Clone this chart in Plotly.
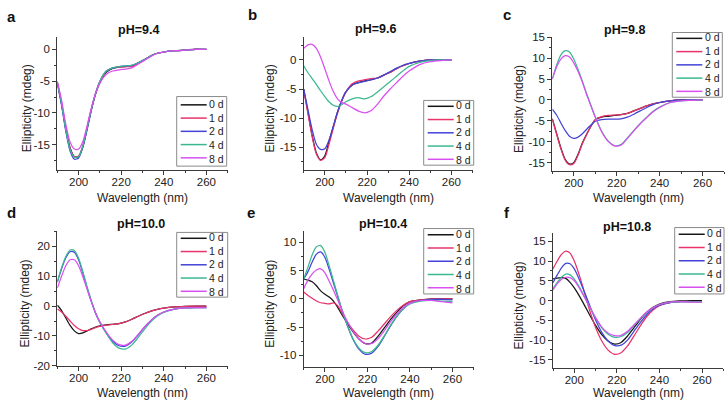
import plotly.graph_objects as go

# ---------------- data ----------------
wavelength = [190, 192, 194, 196, 198, 200, 202, 204, 206, 208, 210, 213, 216, 219,
              222, 225, 228, 231, 234, 237, 240, 245, 250, 255, 260]
days = ["0 d", "1 d", "2 d", "4 d", "8 d"]
ph_titles = ["pH=9.4", "pH=9.6", "pH=9.8", "pH=10.0", "pH=10.4", "pH=10.8"]
panel_letters = ["a", "b", "c", "d", "e", "f"]
x_tick_values = [200, 220, 240, 260]

ph94_0d = [-5.2, -8.5, -12.5, -15.5, -16.9, -16.9, -15.3, -12.5, -9.5, -7.0, -5.2, -3.6, -3.0, -2.8, -2.7, -2.6, -2.1, -1.6, -1.0, -0.6, -0.4, -0.2, -0.1, 0.05, 0.0]
ph94_1d = [-5.3, -8.6, -12.6, -15.6, -16.9, -16.8, -15.2, -12.4, -9.4, -6.9, -5.1, -3.5, -2.9, -2.8, -2.7, -2.7, -2.2, -1.6, -1.0, -0.6, -0.4, -0.2, -0.1, 0.0, 0.0]
ph94_2d = [-5.3, -8.8, -12.9, -16.0, -17.3, -17.1, -15.4, -12.6, -9.5, -6.9, -5.0, -3.4, -2.9, -2.7, -2.6, -2.5, -2.1, -1.6, -1.0, -0.6, -0.4, -0.2, -0.1, 0.0, 0.0]
ph94_4d = [-5.2, -8.6, -12.7, -15.8, -17.0, -16.9, -15.2, -12.4, -9.4, -6.9, -5.0, -3.4, -2.9, -2.7, -2.6, -2.5, -2.1, -1.6, -1.0, -0.6, -0.4, -0.2, -0.1, 0.0, 0.0]
ph94_8d = [-5.0, -8.0, -11.8, -14.6, -15.7, -15.7, -14.5, -12.0, -9.2, -6.9, -5.3, -3.9, -3.4, -3.2, -3.1, -2.9, -2.3, -1.7, -1.1, -0.6, -0.4, -0.2, -0.1, 0.0, 0.0]

ph96_0d = [-5.0, -9.0, -13.0, -16.0, -17.2, -16.5, -14.0, -11.5, -9.0, -7.0, -5.5, -4.3, -3.9, -3.6, -3.4, -3.1, -2.6, -2.1, -1.5, -1.0, -0.6, -0.2, 0.0, 0.0, 0.0]
ph96_1d = [-5.2, -9.2, -13.2, -16.2, -17.3, -16.8, -14.5, -11.8, -9.2, -7.1, -5.5, -4.1, -3.6, -3.4, -3.2, -3.1, -2.6, -2.1, -1.5, -1.0, -0.6, -0.2, 0.0, 0.0, 0.0]
ph96_2d = [-5.0, -8.5, -12.0, -14.5, -15.4, -15.3, -13.8, -11.5, -9.0, -7.0, -5.5, -4.3, -3.9, -3.7, -3.4, -3.1, -2.6, -2.0, -1.4, -0.9, -0.6, -0.2, 0.0, 0.0, 0.0]
ph96_4d = [-1.0, -2.2, -3.2, -4.2, -5.3, -6.3, -7.2, -7.8, -8.0, -7.7, -7.2, -6.7, -6.5, -6.7, -6.3, -5.5, -4.6, -3.7, -2.8, -1.9, -1.1, -0.4, -0.1, 0.0, 0.0]
ph96_8d = [2.0, 2.6, 2.7, 2.0, 0.5, -1.5, -3.6, -5.4, -6.7, -7.3, -7.6, -8.2, -8.8, -9.1, -8.7, -7.6, -6.2, -5.0, -3.9, -2.8, -1.9, -0.8, -0.3, -0.1, 0.0]

ph98_0d = [-4.5, -8.0, -11.5, -14.2, -15.3, -15.0, -13.0, -10.3, -8.2, -6.3, -4.7, -4.1, -3.9, -3.7, -3.5, -3.2, -2.6, -2.0, -1.4, -0.9, -0.6, -0.2, 0.0, 0.0, 0.0]
ph98_1d = [-4.6, -8.2, -11.7, -14.4, -15.5, -15.2, -13.2, -10.5, -8.3, -6.3, -4.7, -4.0, -3.7, -3.6, -3.5, -3.2, -2.6, -2.0, -1.4, -0.9, -0.6, -0.2, 0.0, 0.0, 0.0]
ph98_2d = [-2.2, -3.6, -5.5, -7.3, -8.7, -9.2, -8.9, -8.1, -7.0, -6.0, -5.1, -4.7, -4.6, -4.6, -4.5, -4.1, -3.4, -2.6, -1.8, -1.1, -0.6, -0.2, 0.0, 0.0, 0.0]
ph98_4d = [5.0, 8.3, 10.8, 11.8, 11.5, 9.8, 7.3, 4.5, 1.5, -1.3, -4.0, -7.5, -9.8, -10.9, -10.7, -9.1, -7.3, -5.6, -4.1, -2.7, -1.7, -0.6, -0.2, -0.1, 0.0]
ph98_8d = [5.0, 7.9, 9.8, 10.6, 10.3, 8.9, 6.8, 4.3, 1.3, -1.4, -4.1, -7.6, -9.9, -11.0, -10.8, -9.2, -7.4, -5.7, -4.2, -2.8, -1.8, -0.6, -0.2, -0.1, 0.0]

ph100_0d = [0.3, -1.5, -4.0, -6.5, -8.3, -9.2, -9.0, -8.3, -7.6, -7.0, -6.6, -6.3, -6.1, -5.9, -5.3, -4.4, -3.4, -2.5, -1.7, -1.1, -0.7, -0.3, -0.1, 0.0, 0.0]
ph100_1d = [-1.0, -2.0, -3.4, -5.0, -6.5, -7.6, -8.2, -8.2, -7.8, -7.2, -6.8, -6.4, -6.1, -5.9, -5.3, -4.4, -3.4, -2.5, -1.7, -1.1, -0.7, -0.3, -0.1, 0.0, 0.0]
ph100_2d = [8.0, 12.5, 16.2, 18.2, 18.0, 15.5, 11.0, 6.0, 1.5, -2.5, -5.5, -9.0, -11.8, -13.3, -13.4, -12.0, -9.6, -7.0, -4.8, -3.1, -2.0, -1.0, -0.6, -0.5, -0.5]
ph100_4d = [8.0, 12.8, 16.6, 18.8, 18.6, 16.0, 11.5, 6.4, 1.8, -2.3, -5.5, -9.2, -12.3, -14.1, -14.4, -13.0, -10.5, -7.7, -5.2, -3.3, -2.1, -1.0, -0.6, -0.5, -0.5]
ph100_8d = [6.0, 10.0, 13.5, 15.5, 15.5, 13.5, 9.8, 5.6, 1.4, -2.3, -5.3, -8.7, -11.4, -12.9, -13.1, -11.8, -9.5, -7.0, -4.8, -3.1, -2.0, -1.0, -0.6, -0.5, -0.5]

ph104_0d = [3.5, 3.3, 3.0, 2.3, 1.4, 0.8, 0.3, -0.4, -1.5, -2.8, -4.0, -5.7, -7.1, -7.9, -7.8, -6.6, -5.1, -3.6, -2.3, -1.2, -0.5, -0.2, 0.0, 0.0, 0.0]
ph104_1d = [1.2, 0.6, 0.1, -0.4, -0.7, -0.8, -0.9, -0.7, -1.2, -2.5, -3.8, -5.4, -6.6, -7.1, -6.8, -5.7, -4.4, -3.1, -2.0, -1.1, -0.5, -0.2, 0.0, 0.0, 0.0]
ph104_2d = [3.5, 4.8, 6.5, 7.9, 8.3, 7.3, 5.2, 2.8, 0.4, -2.0, -4.2, -7.0, -8.9, -9.8, -9.6, -8.4, -6.6, -4.7, -3.0, -1.7, -0.8, -0.3, -0.1, -0.1, -0.2]
ph104_4d = [3.5, 5.6, 7.8, 9.2, 9.4, 8.2, 5.8, 3.2, 0.6, -1.9, -4.1, -6.9, -8.7, -9.5, -9.3, -8.2, -6.5, -4.6, -3.0, -1.7, -0.9, -0.4, -0.3, -0.4, -0.5]
ph104_8d = [1.8, 3.3, 4.4, 5.1, 5.3, 4.6, 3.1, 1.5, -0.2, -2.0, -3.6, -5.6, -7.1, -7.9, -7.9, -7.0, -5.6, -4.0, -2.6, -1.5, -0.8, -0.3, -0.3, -0.5, -0.7]

ph108_0d = [5.5, 5.7, 5.8, 5.6, 4.6, 3.2, 1.5, -0.4, -2.4, -4.4, -6.3, -8.7, -10.3, -11.0, -10.6, -9.0, -6.9, -4.8, -3.0, -1.7, -0.9, -0.3, -0.1, 0.0, 0.0]
ph108_1d = [8.0, 10.0, 11.7, 12.5, 12.0, 10.0, 7.0, 3.5, -0.3, -3.8, -6.8, -10.3, -12.6, -13.6, -13.2, -11.5, -9.0, -6.4, -4.1, -2.4, -1.3, -0.5, -0.3, -0.3, -0.3]
ph108_2d = [4.5, 6.5, 8.3, 9.4, 9.3, 8.0, 5.8, 3.2, 0.5, -2.3, -4.9, -8.1, -10.3, -11.4, -11.3, -10.0, -7.8, -5.6, -3.6, -2.1, -1.2, -0.5, -0.3, -0.3, -0.3]
ph108_4d = [3.0, 4.6, 5.9, 6.7, 6.5, 5.4, 3.8, 1.8, -0.3, -2.4, -4.4, -7.0, -8.6, -9.3, -9.1, -8.1, -6.4, -4.6, -3.0, -1.8, -1.0, -0.4, -0.3, -0.3, -0.3]
ph108_8d = [2.7, 4.3, 5.4, 5.9, 5.8, 5.0, 3.5, 1.6, -0.4, -2.4, -4.3, -6.8, -8.3, -8.9, -8.8, -7.8, -6.2, -4.5, -2.9, -1.8, -1.0, -0.4, -0.3, -0.4, -0.4]

panels_data = [
    [ph94_0d, ph94_1d, ph94_2d, ph94_4d, ph94_8d],
    [ph96_0d, ph96_1d, ph96_2d, ph96_4d, ph96_8d],
    [ph98_0d, ph98_1d, ph98_2d, ph98_4d, ph98_8d],
    [ph100_0d, ph100_1d, ph100_2d, ph100_4d, ph100_8d],
    [ph104_0d, ph104_1d, ph104_2d, ph104_4d, ph104_8d],
    [ph108_0d, ph108_1d, ph108_2d, ph108_4d, ph108_8d],
]
y_tick_values = [
    [-15, -10, -5, 0],
    [-15, -10, -5, 0],
    [-15, -10, -5, 0, 5, 10, 15],
    [-20, -10, 0, 10, 20],
    [-10, -5, 0, 5, 10],
    [-15, -10, -5, 0, 5, 10, 15],
]
y_ranges = [(-19, 2), (-19, 4), (-17, 15), (-20, 25), (-12, 12), (-17, 17)]

# ---------------- style ----------------
W, H = 727, 407
colors = ["#151515", "#e8336b", "#4343d8", "#3bb892", "#d850ef"]
FONT = "Arial, Liberation Sans, sans-serif"
AXC = "#3a3a3a"
TXT = "#222"

# plot areas in pixels: left, right, top, bottom
areas = [
    (57.3, 227.7, 31.7, 169.0),
    (303.7, 472.5, 31.7, 169.3),
    (552.3, 724.0, 32.3, 170.0),
    (57.3, 227.7, 232.3, 370.7),
    (303.7, 473.7, 231.7, 371.7),
    (553.0, 723.3, 234.3, 372.7),
]
minor_steps = [2.5, 2.5, 2.5, 5, 2.5, 2.5]
legend_boxes = [
    (176.7, 93.3, 50, 71.7),
    (423.7, 97.3, 50, 66.7),
    (672.3, 27.3, 50, 66.7),
    (176.7, 233.3, 51, 66.7),
    (423.7, 229.3, 50, 67.4),
    (674.7, 228.3, 49.3, 68.4),
]
title_pos = [(138.5, 25), (375, 23.5), (624.8, 25), (141, 225), (382.7, 225), (626.5, 228)]
letter_pos = [(12, 11), (252, 9), (507, 9), (11, 213), (251, 213), (507, 213)]
ytitle_x = [27, 270, 519, 25, 270, 519]
xtitle_y = [197.5, 197.5, 197.5, 399, 399, 399]
LEG_FS = 10.5
LEG_LH = LEG_FS * 1.3


def px(x):
    return x / W


def py(y):
    return 1 - y / H


fig = go.Figure()
shapes = []
annotations = []

for i in range(6):
    n = "" if i == 0 else str(i + 1)
    xa, ya = "x" + n, "y" + n
    l, r, t, b = areas[i]
    for j in range(5):
        fig.add_trace(go.Scatter(
            x=wavelength, y=panels_data[i][j], mode="lines", name=days[j],
            line=dict(color=colors[j], width=1.25, shape="spline", smoothing=0.7),
            xaxis=xa, yaxis=ya, showlegend=False,
        ))
    common = dict(showline=True, linecolor=AXC, linewidth=1, ticks="outside",
                  ticklen=4, tickcolor=AXC, tickwidth=1, showgrid=False, zeroline=False,
                  tickfont=dict(family=FONT, size=11.5, color=TXT))
    fig.layout["xaxis" + n] = dict(
        domain=[px(l), px(r)], anchor=ya, range=[190, 270],
        tickvals=x_tick_values, ticktext=[str(v) for v in x_tick_values],
        ticklabelstandoff=-3,
        minor=dict(dtick=10, tick0=0, ticks="outside", ticklen=2, tickcolor=AXC),
        **common)
    fig.layout["yaxis" + n] = dict(
        domain=[py(b), py(t)], anchor=xa, range=list(y_ranges[i]),
        tickvals=y_tick_values[i], ticktext=[str(v) for v in y_tick_values[i]],
        minor=dict(dtick=minor_steps[i], tick0=0, ticks="outside", ticklen=2, tickcolor=AXC),
        **common)

    # axis titles
    annotations.append(dict(text="Wavelength (nm)", x=px((l + r) / 2), y=py(xtitle_y[i]),
                            xref="paper", yref="paper", showarrow=False,
                            xanchor="center", yanchor="middle", borderpad=0,
                            font=dict(family=FONT, size=12, color=TXT)))
    annotations.append(dict(text="Ellipticity (mdeg)", x=px(ytitle_x[i]), y=py((t + b) / 2 + 5),
                            xref="paper", yref="paper", showarrow=False, textangle=-90,
                            xanchor="center", yanchor="middle", borderpad=0,
                            font=dict(family=FONT, size=12, color=TXT)))

    # title & panel letter
    tx, ty = title_pos[i]
    annotations.append(dict(text="<b>" + ph_titles[i] + "</b>", x=px(tx), y=py(ty), xref="paper", yref="paper",
                            showarrow=False, font=dict(family=FONT, size=12.5, color="#111"),
                            xanchor="center", yanchor="middle"))
    lx, ly = letter_pos[i]
    annotations.append(dict(text="<b>" + panel_letters[i] + "</b>", x=px(lx), y=py(ly), xref="paper", yref="paper",
                            showarrow=False, font=dict(family=FONT, size=15, color="#111"),
                            xanchor="center", yanchor="middle"))

    # legend box
    bl, bt, bw, bh = legend_boxes[i]
    shapes.append(dict(type="rect", xref="paper", yref="paper", x0=px(bl), x1=px(bl + bw),
                       y0=py(bt + bh), y1=py(bt), line=dict(color="#8a8a8a", width=1),
                       fillcolor="white", layer="above"))
    yc0 = bt + bh / 2
    for j in range(5):
        yc = yc0 + (j - 2) * LEG_LH
        shapes.append(dict(type="line", xref="paper", yref="paper", x0=px(bl + 4), x1=px(bl + 30),
                           y0=py(yc), y1=py(yc), line=dict(color=colors[j], width=1.5), layer="above"))
    annotations.append(dict(text="<br>".join(days), x=px(bl + 31.5), y=py(yc0), xref="paper", yref="paper",
                            showarrow=False, xanchor="left", yanchor="middle", align="left",
                            borderpad=0, font=dict(family=FONT, size=LEG_FS, color=TXT)))

fig.update_layout(
    width=W, height=H, margin=dict(l=0, r=0, t=0, b=0),
    paper_bgcolor="white", plot_bgcolor="white",
    shapes=shapes, annotations=annotations, showlegend=False,
)

fig.write_html("out.html")
